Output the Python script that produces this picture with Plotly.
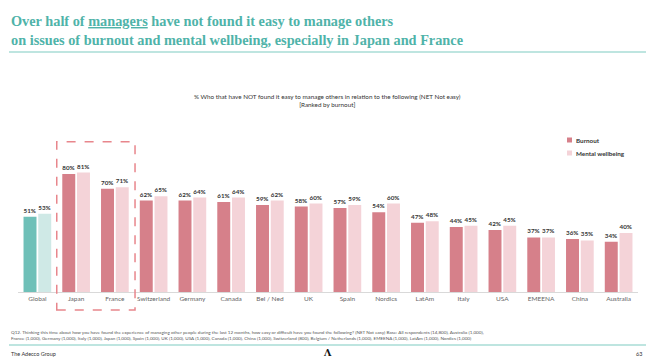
import plotly.graph_objects as go

categories = ["Global", "Japan", "France", "Switzerland", "Germany", "Canada", "Bel / Ned", "UK",
              "Spain", "Nordics", "LatAm", "Italy", "USA", "EMEENA", "China", "Australia"]
burnout = [51, 80, 70, 62, 62, 61, 59, 58, 57, 54, 47, 44, 42, 37, 36, 34]
mental = [53, 81, 71, 65, 64, 64, 62, 60, 59, 60, 48, 45, 45, 37, 35, 40]
series_names = ["Burnout", "Mental wellbeing"]

W, H = 654, 362
C_BURN = "#d6808a"
C_MENT = "#f4d3d8"
C_GBURN = "#6fc0b8"
C_GMENT = "#cfe9e6"
TEAL = "#4fb3a9"
LINE_TEAL = "#a9dcd6"

def px_x(p):
    return p / W

def px_y(p):
    return (H - p) / H

lbl_font = dict(family="Lato", size=6.6, color="#333333")

fig = go.Figure()
# Global (teal)
fig.add_trace(go.Bar(x=categories[:1], y=burnout[:1], offsetgroup="b", marker_color=C_GBURN,
                     text=[f"<b>{v}%</b>" for v in burnout[:1]], textposition="outside",
                     textfont=lbl_font, cliponaxis=False, showlegend=False))
fig.add_trace(go.Bar(x=categories[:1], y=mental[:1], offsetgroup="m", marker_color=C_GMENT,
                     text=[f"<b>{v}%</b>" for v in mental[:1]], textposition="outside",
                     textfont=lbl_font, cliponaxis=False, showlegend=False))
# Countries
fig.add_trace(go.Bar(x=categories[1:], y=burnout[1:], offsetgroup="b", marker_color=C_BURN,
                     name=series_names[0],
                     text=[f"<b>{v}%</b>" for v in burnout[1:]], textposition="outside",
                     textfont=lbl_font, cliponaxis=False, showlegend=False))
fig.add_trace(go.Bar(x=categories[1:], y=mental[1:], offsetgroup="m", marker_color=C_MENT,
                     name=series_names[1],
                     text=[f"<b>{v}%</b>" for v in mental[1:]], textposition="outside",
                     textfont=lbl_font, cliponaxis=False, showlegend=False))

fig.update_traces(marker_line_width=0, hoverinfo="skip")

fig.update_layout(
    width=W, height=H,
    margin=dict(l=0, r=0, t=0, b=0),
    paper_bgcolor="white", plot_bgcolor="white",
    barmode="group", bargap=0.24, bargroupgap=0.12,
    xaxis=dict(domain=[px_x(18), px_x(638)], showgrid=False, zeroline=False,
               showline=True, linecolor="#d9d9d9", linewidth=1,
               ticks="", tickfont=dict(family="Lato", size=6.5, color="#666666"),
               categoryorder="array", categoryarray=categories),
    yaxis=dict(domain=[px_y(292), px_y(144.5)], range=[0, 100], visible=False),
    font=dict(family="Lato"),
)

shapes = []
# dashed box around Japan & France
shapes.append(dict(type="rect", xref="x", yref="paper", x0=0.5, x1=2.52,
                   y0=px_y(310), y1=px_y(141.7),
                   line=dict(color="#e8868c", width=1.5, dash="dash")))
# title underline
shapes.append(dict(type="line", xref="paper", yref="paper", x0=px_x(9), x1=px_x(646),
                   y0=px_y(52), y1=px_y(52), line=dict(color=LINE_TEAL, width=1.5)))
# footer line
shapes.append(dict(type="line", xref="paper", yref="paper", x0=px_x(9), x1=px_x(646),
                   y0=px_y(345), y1=px_y(345), line=dict(color=LINE_TEAL, width=1.5)))
# legend swatches
for i, c in enumerate([C_BURN, C_MENT]):
    yc = 140 + i * 13
    shapes.append(dict(type="rect", xref="paper", yref="paper",
                       x0=px_x(567), x1=px_x(572), y0=px_y(yc + 2.5), y1=px_y(yc - 2.5),
                       fillcolor=c, line=dict(width=0)))
fig.update_layout(shapes=shapes)

ann = []
ann.append(dict(xref="paper", yref="paper", x=px_x(9), y=px_y(11), xanchor="left", yanchor="top",
                align="left", showarrow=False,
                text="<b>Over half of <u>managers</u> have not found it easy to manage others<br>"
                     "on issues of burnout and mental wellbeing, especially in Japan and France</b>",
                font=dict(family="Liberation Serif", size=14.3, color=TEAL)))
ann.append(dict(xref="paper", yref="paper", x=px_x(328), y=px_y(91), xanchor="center", yanchor="top",
                align="center", showarrow=False,
                text="% Who that have NOT found it easy to manage others in relation to the following (NET Not easy)<br>[Ranked by burnout]",
                font=dict(family="Lato", size=6.3, color="#333333")))
for i, name in enumerate(series_names):
    ann.append(dict(xref="paper", yref="paper", x=px_x(574), y=px_y(140 + i * 13),
                    xanchor="left", yanchor="middle", showarrow=False,
                    text=f"<b>{name}</b>", font=dict(family="Lato", size=6.3, color="#333333")))
ann.append(dict(xref="paper", yref="paper", x=px_x(9), y=px_y(327), xanchor="left", yanchor="top",
                align="left", showarrow=False,
                text="Q12. Thinking this time about how you have found the experience of managing other people during the last 12 months, how easy or difficult have you found the following? (NET Not easy) Base: All respondents (14,800), Australia (1,000),<br>"
                     "France (1,000), Germany (1,000), Italy (1,000), Japan (1,000), Spain (1,000), UK (1,000), USA (1,000), Canada (1,000), China (1,000), Switzerland (800), Belgium / Netherlands (1,000), EMEENA (1,000), LatAm (1,000), Nordics (1,000)",
                font=dict(family="Lato", size=4.6, color="#555555")))
ann.append(dict(xref="paper", yref="paper", x=px_x(9), y=px_y(354), xanchor="left", yanchor="middle",
                showarrow=False, text="The Adecco Group",
                font=dict(family="Lato", size=5.5, color="#333333")))
ann.append(dict(xref="paper", yref="paper", x=px_x(327), y=px_y(352.5), xanchor="center", yanchor="middle",
                showarrow=False, text="<b>Λ</b>",
                font=dict(family="DejaVu Serif", size=9.5, color="#111111")))
ann.append(dict(xref="paper", yref="paper", x=px_x(644), y=px_y(354), xanchor="right", yanchor="middle",
                showarrow=False, text="63",
                font=dict(family="Lato", size=5.5, color="#333333")))
fig.update_layout(annotations=ann)

fig.write_html("out.html", config={"displayModeBar": False},
               post_script="document.body.style.margin='0';document.body.style.padding='0';")
